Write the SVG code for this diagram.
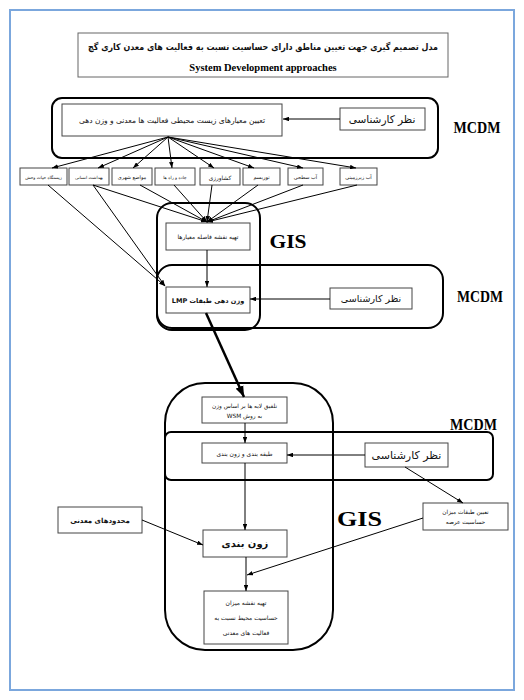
<svg xmlns="http://www.w3.org/2000/svg" width="524" height="700" viewBox="0 0 524 700">
<defs>
<marker id="ah" viewBox="0 0 8 6" refX="8" refY="3" markerWidth="6" markerHeight="4.5" markerUnits="userSpaceOnUse" orient="auto"><path d="M0,0 L8,3 L0,6 z" fill="#000"/></marker>
<marker id="ahb" viewBox="0 0 8 6" refX="8" refY="3" markerWidth="11" markerHeight="9" markerUnits="userSpaceOnUse" orient="auto"><path d="M0,0 L8,3 L0,6 z" fill="#000"/></marker>
</defs>
<style>
.bx{fill:#fff;stroke:#444;stroke-width:1}
.grp{fill:none;stroke:#000;stroke-width:2}
.fa{font-family:"DejaVu Sans",sans-serif;direction:rtl;unicode-bidi:embed;text-anchor:middle;fill:#111}
.lat{font-family:"Liberation Serif",serif;font-weight:bold;fill:#000;text-anchor:middle}
.ln{stroke:#000;stroke-width:1;fill:none;marker-end:url(#ah)}
.ln0{stroke:#000;stroke-width:1;fill:none}
</style>
<rect x="10" y="10" width="504" height="680" fill="#fff" stroke="#7ba7dd" stroke-width="2"/>

<g id="title">
<rect x="78" y="33" width="370" height="44" fill="#fff" stroke="#666" stroke-width="1"/>
<text class="fa" x="263" y="50" font-size="9" font-weight="bold" textLength="350" lengthAdjust="spacingAndGlyphs">مدل تصمیم گیری جهت تعیین مناطق دارای حساسیت نسبت به فعالیت های معدن کاری گچ</text>
<text class="lat" x="263" y="71" font-size="10.5">System Development approaches</text>
</g>

<g id="mcdm1">
<rect class="grp" x="52" y="98" width="386" height="60" rx="10"/>
<text class="lat" x="477" y="133" font-size="17" textLength="47" lengthAdjust="spacingAndGlyphs">MCDM</text>
</g>
<g id="criteria"><rect class="bx" x="62" y="104" width="220" height="32"/><text class="fa" x="172" y="123" font-size="7.5">تعیین معیارهای زیست محیطی فعالیت ها معدنی و وزن دهی</text></g>
<g id="expert1"><rect class="bx" x="340" y="108" width="85" height="22"/><text class="fa" x="382" y="123" font-size="10.5">نظر کارشناسی</text></g>

<g id="c1"><rect class="bx" x="20" y="168" width="47" height="17"/><text class="fa" x="43.5" y="178.5" font-size="4.3">زیستگاه حیات وحش</text></g>
<g id="c2"><rect class="bx" x="69" y="168" width="40" height="17"/><text class="fa" x="89" y="178.5" font-size="4.3">بهداشت انسانی</text></g>
<g id="c3"><rect class="bx" x="112" y="168" width="40" height="17"/><text class="fa" x="132" y="179" font-size="5">مواضع شهری</text></g>
<g id="c4"><rect class="bx" x="155" y="168" width="40" height="17"/><text class="fa" x="175" y="178.5" font-size="4.3">جاده و راه ها</text></g>
<g id="c5"><rect class="bx" x="200" y="168" width="40" height="17"/><text class="fa" x="220" y="179.5" font-size="5.8">کشاورزی</text></g>
<g id="c6"><rect class="bx" x="243" y="168" width="37" height="17"/><text class="fa" x="261.5" y="179" font-size="5.2">توریسم</text></g>
<g id="c7"><rect class="bx" x="288" y="168" width="35" height="17"/><text class="fa" x="305.5" y="179" font-size="5">آب سطحی</text></g>
<g id="c8"><rect class="bx" x="340" y="168" width="37" height="17"/><text class="fa" x="358.5" y="179" font-size="5">آب زیرزمینی</text></g>

<g id="gis1">
<rect class="grp" x="157" y="203" width="103" height="127" rx="15"/>
<text class="lat" x="288" y="248" font-size="19" textLength="37" lengthAdjust="spacingAndGlyphs">GIS</text>
</g>
<g id="mcdm2">
<rect class="grp" x="157" y="265" width="286" height="63" rx="15"/>
<text class="lat" x="480" y="302" font-size="17" textLength="46" lengthAdjust="spacingAndGlyphs">MCDM</text>
</g>
<g id="distmap"><rect class="bx" x="166" y="223" width="84" height="27"/><text class="fa" x="208" y="239" font-size="6">تهیه نقشه فاصله معیارها</text></g>
<g id="lmp"><rect class="bx" x="166" y="287" width="84" height="26"/><text class="fa" x="208" y="302.5" font-size="6.5" font-weight="bold">وزن دهی طبقات LMP</text></g>
<g id="expert2"><rect class="bx" x="330" y="288" width="82" height="21"/><text class="fa" x="371" y="302" font-size="9.5">نظر کارشناسی</text></g>

<g id="gis2">
<rect class="grp" x="165" y="383" width="168" height="267" rx="40"/>
<text class="lat" x="359.5" y="526" font-size="22" textLength="45" lengthAdjust="spacingAndGlyphs">GIS</text>
</g>
<g id="mcdm3">
<rect class="grp" x="165" y="432" width="328" height="48" rx="6"/>
<text class="lat" x="473.5" y="430" font-size="17" textLength="47" lengthAdjust="spacingAndGlyphs">MCDM</text>
</g>
<g id="wsm"><rect class="bx" x="202" y="397" width="85" height="26"/><text class="fa" x="244.5" y="408" font-size="5.8">تلفیق لایه ها بر اساس وزن</text><text class="fa" x="244.5" y="418" font-size="5.8">به روش WSM</text></g>
<g id="classify"><rect class="bx" x="202" y="443" width="85" height="20"/><text class="fa" x="244.5" y="455.5" font-size="6">طبقه بندی و زون بندی</text></g>
<g id="expert3"><rect class="bx" x="365" y="443" width="83" height="24"/><text class="fa" x="406.5" y="459" font-size="11">نظر کارشناسی</text></g>
<g id="sens"><rect class="bx" x="423" y="503" width="85" height="27"/><text class="fa" x="465.5" y="514" font-size="5.8">تعیین طبقات میزان</text><text class="fa" x="465.5" y="524" font-size="5.8">حساسیت عرصه</text></g>
<g id="mines"><rect class="bx" x="58" y="507" width="84" height="26"/><text class="fa" x="100" y="523" font-size="7" font-weight="bold">محدودهای معدنی</text></g>
<g id="zone"><rect class="bx" x="203" y="530" width="84" height="27"/><text class="fa" x="245" y="547" font-size="10" font-weight="bold">زون بندی</text></g>
<g id="final"><rect class="bx" x="204" y="591" width="84" height="53"/><text class="fa" x="246" y="605" font-size="6">تهیه نقشه میزان</text><text class="fa" x="246" y="620" font-size="6">حساسیت محیط نسبت به</text><text class="fa" x="246" y="635" font-size="6">فعالیت های معدنی</text></g>

<g id="connectors">
<line class="ln" x1="340" y1="119" x2="283" y2="119"/>
<line class="ln" x1="168" y1="137" x2="52" y2="168"/>
<line class="ln" x1="168" y1="137" x2="98" y2="168"/>
<line class="ln" x1="168" y1="137" x2="133" y2="168"/>
<line class="ln" x1="168" y1="137" x2="172" y2="168"/>
<line class="ln" x1="168" y1="137" x2="214" y2="168"/>
<line class="ln" x1="168" y1="137" x2="254" y2="168"/>
<line class="ln" x1="168" y1="137" x2="303" y2="168"/>
<line class="ln" x1="168" y1="137" x2="356" y2="168"/>
<line class="ln" x1="48" y1="185" x2="165" y2="286"/>
<line class="ln" x1="93" y1="185" x2="165" y2="286"/>
<line class="ln" x1="93" y1="185" x2="207" y2="222"/>
<line class="ln" x1="140" y1="185" x2="207" y2="222"/>
<line class="ln" x1="174" y1="185" x2="207" y2="222"/>
<line class="ln" x1="212" y1="185" x2="207" y2="222"/>
<line class="ln" x1="258" y1="185" x2="207" y2="222"/>
<line class="ln" x1="303" y1="185" x2="207" y2="222"/>
<line class="ln" x1="357" y1="185" x2="207" y2="222"/>
<line class="ln" x1="207" y1="250" x2="207" y2="287"/>
<line class="ln" x1="330" y1="299" x2="250" y2="299"/>
<line x1="206" y1="313" x2="244" y2="397" stroke="#000" stroke-width="2.5" marker-end="url(#ahb)"/>
<line class="ln" x1="245" y1="423" x2="245" y2="443"/>
<line class="ln" x1="365" y1="455" x2="287" y2="455"/>
<line class="ln" x1="405" y1="467" x2="463" y2="503"/>
<line class="ln" x1="245" y1="463" x2="245" y2="530"/>
<line class="ln" x1="142" y1="520" x2="203" y2="545"/>
<line class="ln" x1="423" y1="518" x2="247" y2="575"/>
<line class="ln" x1="246" y1="557" x2="246" y2="591"/>
</g>
</svg>
